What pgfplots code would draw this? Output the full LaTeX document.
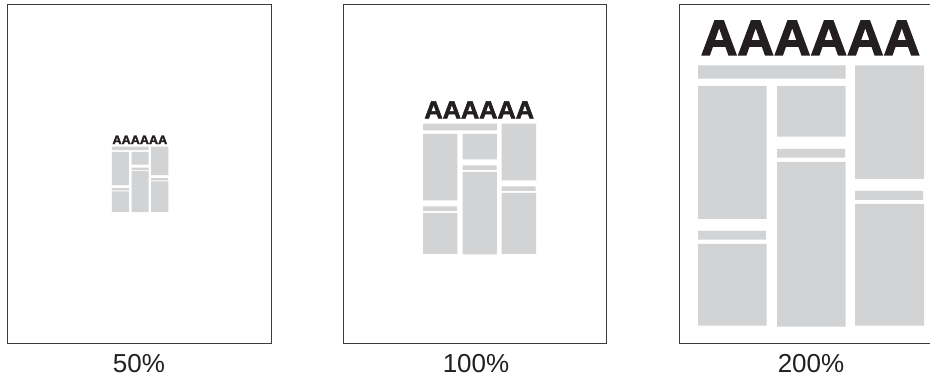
\documentclass[border=0pt]{standalone}
\usepackage{pgfplots}
\usepackage{pgfplotstable}
\pgfplotsset{compat=1.18}
\usepackage{fontspec}
\setmainfont{Liberation Sans}
\newfontfamily\heavy[UprightFont={* Bold}, UprightFeatures={FakeBold=2.5}]{Liberation Sans}
\definecolor{blockgray}{RGB}{209,211,212}
\definecolor{framegray}{RGB}{60,60,60}
\definecolor{inkblack}{RGB}{35,31,32}
% page layout (200% size, relative to page centre), one rectangle per block
\pgfplotstableread{
x y
-113 95
34.7 95
34.7 108.4
-113 108.4
nan nan
-113 -45.3
-44.3 -45.3
-44.3 87.7
-113 87.7
nan nan
-113 -66
-45 -66
-45 -57.3
-113 -57.3
nan nan
-113 -152
-44.3 -152
-44.3 -70.3
-113 -70.3
nan nan
-34 37
34.7 37
34.7 87.7
-34 87.7
nan nan
-34 16
34 16
34 24.7
-34 24.7
nan nan
-34 -153
34.7 -153
34.7 11.7
-34 11.7
nan nan
44 -5.3
113 -5.3
113 108.4
44 108.4
nan nan
44 -26.3
112 -26.3
112 -17.3
44 -17.3
nan nan
44 -152
113 -152
113 -30.3
44 -30.3
}\layout
\pgfplotsset{page/.style={
  width=263pt, height=339.7pt, scale only axis,
  xtick=\empty, ytick=\empty,
  axis line style={draw=framegray, line width=1pt},
  unbounded coords=jump, anchor=south west}}
\begin{document}
\begin{tikzpicture}
\useasboundingbox (0pt,0pt) rectangle (930pt,379pt);
\begin{axis}[page, at={(8pt,35pt)},
  xmin=-528, xmax=524, ymin=-680.8, ymax=678]
\addplot[fill=blockgray, draw=none] table[x=x,y=y]{\layout};
\node[anchor=base, inner sep=0pt, xscale=1.02, text=inkblack, font=\heavy\fontsize{12.4}{12}\selectfont] at (axis cs:-0.5,118.8) {AAAAAA};
\end{axis}
\begin{axis}[page, at={(343.3pt,35pt)},
  xmin=-272.4, xmax=253.6, ymin=-332.4, ymax=347]
\addplot[fill=blockgray, draw=none] table[x=x,y=y]{\layout};
\node[anchor=base, inner sep=0pt, xscale=1.02, text=inkblack, font=\heavy\fontsize{24.8}{24}\selectfont] at (axis cs:-0.5,118.8) {AAAAAA};
\end{axis}
\begin{axis}[page, at={(679.3pt,35pt)},
  xmin=-131.7, xmax=131.3, ymin=-170.3, ymax=169.4]
\addplot[fill=blockgray, draw=none] table[x=x,y=y]{\layout};
\node[anchor=base, inner sep=0pt, xscale=1.02, text=inkblack, font=\heavy\fontsize{49.6}{48}\selectfont] at (axis cs:-0.5,118.8) {AAAAAA};
\end{axis}
\node[anchor=base, inner sep=0pt, text=inkblack, font=\fontsize{26}{26}\selectfont] at (139pt,6.3pt) {50\%};
\node[anchor=base, inner sep=0pt, text=inkblack, font=\fontsize{26}{26}\selectfont] at (476pt,6.3pt) {100\%};
\node[anchor=base, inner sep=0pt, text=inkblack, font=\fontsize{26}{26}\selectfont] at (811pt,6.3pt) {200\%};
\end{tikzpicture}
\end{document}
